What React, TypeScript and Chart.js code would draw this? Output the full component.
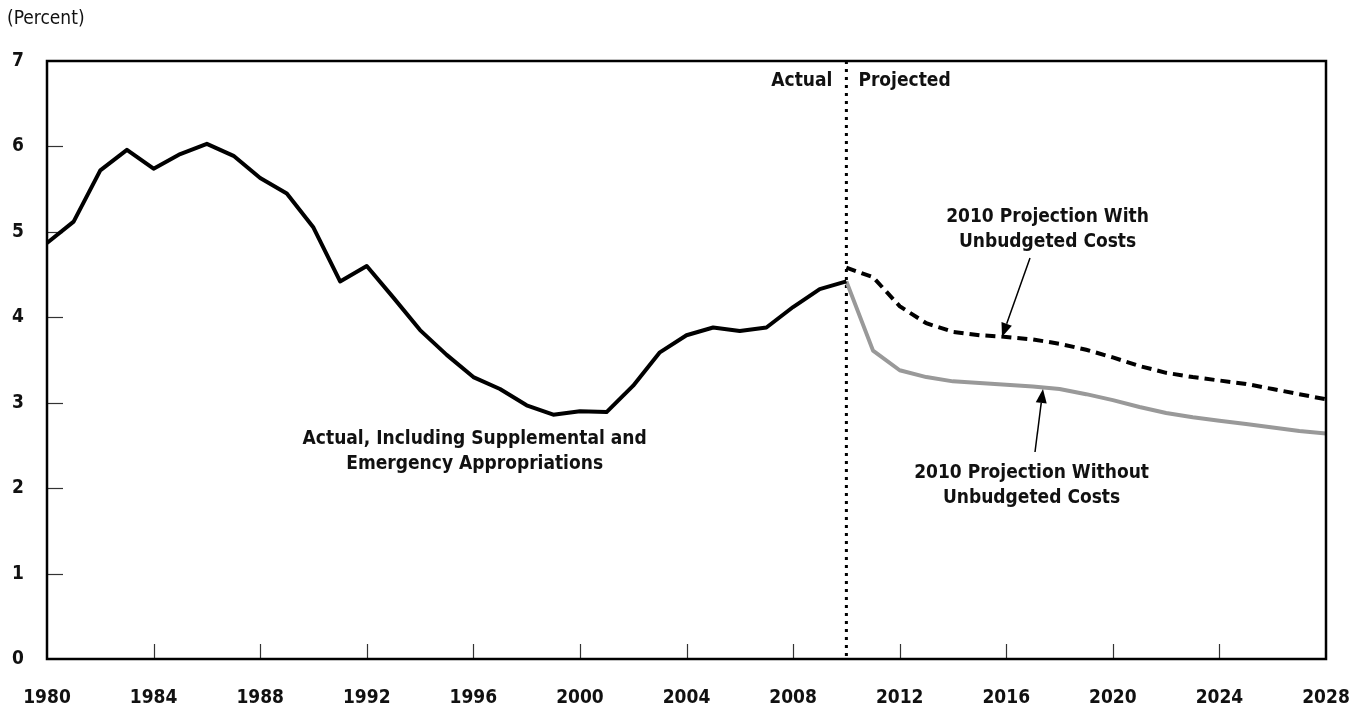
import React, { useEffect, useRef } from "react";
import { Chart, registerables } from "chart.js";

Chart.register(...registerables);

const actualYears = [
  1980, 1981, 1982, 1983, 1984, 1985, 1986, 1987, 1988, 1989, 1990,
  1991, 1992, 1993, 1994, 1995, 1996, 1997, 1998, 1999, 2000,
  2001, 2002, 2003, 2004, 2005, 2006, 2007, 2008, 2009, 2010,
];
const actualValues = [
  4.87, 5.12, 5.72, 5.96, 5.74, 5.91, 6.03, 5.89, 5.63, 5.45, 5.05,
  4.42, 4.6, 4.23, 3.85, 3.56, 3.3, 3.16, 2.97, 2.86, 2.9,
  2.89, 3.2, 3.59, 3.79, 3.88, 3.84, 3.88, 4.12, 4.33, 4.42,
];

const projYears = [
  2010, 2011, 2012, 2013, 2014, 2015, 2016, 2017, 2018, 2019,
  2020, 2021, 2022, 2023, 2024, 2025, 2026, 2027, 2028,
];
const withUnbudgeted = [
  4.58, 4.47, 4.13, 3.93, 3.83, 3.79, 3.77, 3.74, 3.69, 3.62,
  3.53, 3.43, 3.35, 3.3, 3.26, 3.22, 3.16, 3.1, 3.04,
];
const withoutUnbudgeted = [
  4.42, 3.61, 3.38, 3.3, 3.25, 3.23, 3.21, 3.19, 3.16, 3.1,
  3.03, 2.95, 2.88, 2.83, 2.79, 2.75, 2.71, 2.67, 2.64,
];

const xTickYears = [1980, 1984, 1988, 1992, 1996, 2000, 2004, 2008, 2012, 2016, 2020, 2024, 2028];
const yTickValues = [0, 1, 2, 3, 4, 5, 6, 7];
const dividerYear = 2010;

const FONT = '"Liberation Sans Narrow", "DejaVu Sans Condensed", "Arial Narrow", sans-serif';

const toPoints = (xs: number[], ys: number[]) => xs.map((x, i) => ({ x, y: ys[i] }));

const decorPlugin = {
  id: "decor",
  beforeDatasetsDraw(chart: any) {
    const { ctx, chartArea: a, scales } = chart;
    const xs = scales.x;
    const ys = scales.y;
    ctx.save();
    ctx.strokeStyle = "#333";
    ctx.lineWidth = 1.2;
    yTickValues.forEach((v) => {
      if (v === 0 || v === 7) return;
      const y = Math.round(ys.getPixelForValue(v)) + 0.5;
      ctx.beginPath();
      ctx.moveTo(a.left, y);
      ctx.lineTo(a.left + 16, y);
      ctx.stroke();
    });
    xTickYears.forEach((v) => {
      if (v === 1980 || v === 2028) return;
      const x = Math.round(xs.getPixelForValue(v)) + 0.5;
      ctx.beginPath();
      ctx.moveTo(x, a.bottom);
      ctx.lineTo(x, a.bottom - 15);
      ctx.stroke();
    });
    const dx = xs.getPixelForValue(dividerYear);
    ctx.strokeStyle = "#000";
    ctx.lineWidth = 3;
    ctx.setLineDash([3, 5]);
    ctx.beginPath();
    ctx.moveTo(dx, a.top);
    ctx.lineTo(dx, a.bottom);
    ctx.stroke();
    ctx.setLineDash([]);
    ctx.restore();
  },
  afterDatasetsDraw(chart: any) {
    const { ctx, chartArea: a, scales } = chart;
    const xs = scales.x;
    ctx.save();
    ctx.strokeStyle = "#000";
    ctx.lineWidth = 2.5;
    ctx.strokeRect(a.left, a.top, a.right - a.left, a.bottom - a.top);

    ctx.fillStyle = "#111";
    ctx.font = `bold 19px ${FONT}`;
    ctx.textBaseline = "middle";
    const dx = xs.getPixelForValue(dividerYear);
    ctx.textAlign = "right";
    ctx.fillText("Actual", dx - 14, 81);
    ctx.textAlign = "left";
    ctx.fillText("Projected", dx + 12, 81);

    ctx.textAlign = "center";
    const px = (yr: number) => xs.getPixelForValue(yr);
    ctx.fillText("Actual, Including Supplemental and", px(1996.05), 439);
    ctx.fillText("Emergency Appropriations", px(1996.05), 464);
    ctx.fillText("2010 Projection With", px(2017.55), 217);
    ctx.fillText("Unbudgeted Costs", px(2017.55), 242);
    ctx.fillText("2010 Projection Without", px(2016.95), 473);
    ctx.fillText("Unbudgeted Costs", px(2016.95), 498);

    const arrow = (x1: number, y1: number, x2: number, y2: number) => {
      const ang = Math.atan2(y2 - y1, x2 - x1);
      const hl = 14;
      const hw = 5.5;
      const bx = x2 - hl * Math.cos(ang);
      const by = y2 - hl * Math.sin(ang);
      ctx.strokeStyle = "#000";
      ctx.lineWidth = 1.5;
      ctx.beginPath();
      ctx.moveTo(x1, y1);
      ctx.lineTo(bx, by);
      ctx.stroke();
      ctx.fillStyle = "#000";
      ctx.beginPath();
      ctx.moveTo(x2, y2);
      ctx.lineTo(bx + hw * Math.sin(ang), by - hw * Math.cos(ang));
      ctx.lineTo(bx - hw * Math.sin(ang), by + hw * Math.cos(ang));
      ctx.closePath();
      ctx.fill();
    };
    arrow(1030, 258, 1002, 337);
    arrow(1035, 452, 1043, 389);

    ctx.fillStyle = "#111";
    ctx.font = `19px ${FONT}`;
    ctx.textAlign = "left";
    ctx.fillText("(Percent)", 7, 19);
    ctx.restore();
  },
};

export default function App() {
  const ref = useRef<HTMLCanvasElement | null>(null);

  useEffect(() => {
    document.body.style.margin = "0";
    const canvas = ref.current;
    if (!canvas) return;
    const chart = new Chart(canvas, {
      type: "line",
      data: {
        datasets: [
          {
            label: "Actual, Including Supplemental and Emergency Appropriations",
            data: toPoints(actualYears, actualValues),
            borderColor: "#000",
            borderWidth: 4,
            pointRadius: 0,
            tension: 0,
            borderJoinStyle: "round",
          },
          {
            label: "2010 Projection With Unbudgeted Costs",
            data: toPoints(projYears, withUnbudgeted),
            borderColor: "#000",
            borderWidth: 4,
            borderDash: [10, 6],
            pointRadius: 0,
            tension: 0,
          },
          {
            label: "2010 Projection Without Unbudgeted Costs",
            data: toPoints(projYears, withoutUnbudgeted),
            borderColor: "#999",
            borderWidth: 4,
            pointRadius: 0,
            tension: 0,
            borderJoinStyle: "round",
          },
        ],
      },
      options: {
        animation: false,
        responsive: false,
        maintainAspectRatio: false,
        devicePixelRatio: 1,
        layout: { padding: { top: 61, right: 41, left: 0, bottom: 0 } },
        plugins: {
          legend: { display: false },
          tooltip: { enabled: false },
          title: { display: false },
        },
        scales: {
          x: {
            type: "linear",
            min: 1980,
            max: 2028,
            grid: { display: false, drawTicks: false },
            border: { display: false },
            afterBuildTicks: (scale: any) => {
              scale.ticks = xTickYears.map((v) => ({ value: v }));
            },
            afterFit: (scale: any) => {
              scale.height = 51;
              scale.paddingLeft = 0;
              scale.paddingRight = 0;
            },
            ticks: {
              autoSkip: false,
              maxRotation: 0,
              padding: 28,
              color: "#111",
              font: { family: FONT, size: 19, weight: "bold" },
              callback: (v: any) => String(v),
            },
          },
          y: {
            type: "linear",
            min: 0,
            max: 7,
            grid: { display: false, drawTicks: false },
            border: { display: false },
            afterBuildTicks: (scale: any) => {
              scale.ticks = yTickValues.map((v) => ({ value: v }));
            },
            afterFit: (scale: any) => {
              scale.width = 47;
              scale.paddingTop = 0;
              scale.paddingBottom = 0;
            },
            ticks: {
              padding: 23,
              color: "#111",
              font: { family: FONT, size: 19, weight: "bold" },
              callback: (v: any) => String(v),
            },
          },
        },
      },
      plugins: [decorPlugin],
    } as any);
    return () => chart.destroy();
  }, []);

  return (
    <div style={{ width: 1367, height: 710, position: "relative" }}>
      <canvas ref={ref} width={1367} height={710} style={{ display: "block" }} />
    </div>
  );
}
